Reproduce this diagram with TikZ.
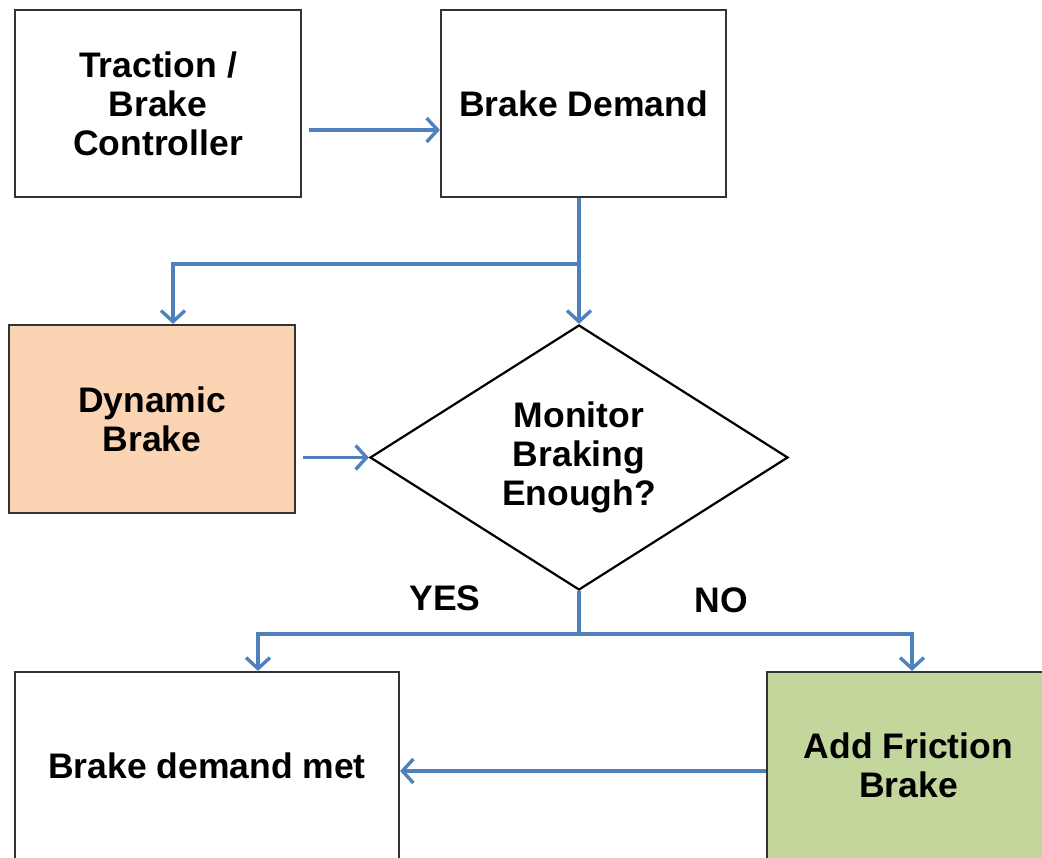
\documentclass[tikz,border=0pt]{standalone}
\usepackage{fontspec}
\setmainfont{Liberation Sans}
\usepackage{xcolor}
\usetikzlibrary{arrows.meta,calc,shapes.geometric}
\definecolor{flowblue}{HTML}{4F81BD}
\definecolor{dynpeach}{HTML}{FBD4B4}
\definecolor{fricgreen}{HTML}{C3D69B}
\tikzset{
	box/.style={
			draw=black!80, line width=2.2pt, rectangle, inner sep=0pt,
			align=center, font=\bfseries\fontsize{35.5}{39}\selectfont
		},
	flow/.style={
			draw=flowblue, line width=3.4pt,
			-{Straight Barb[length=11pt,width=24pt,line width=3.4pt]}
		}
}
\begin{document}
\begin{tikzpicture}[x=1pt, y=-1pt]
			\useasboundingbox (0, 0) rectangle (1042, 858);
			\clip (0, 0) rectangle (1042, 858);

			\node[box, minimum width=286pt, minimum height=187pt]	(trac) at (158, 103.5) {Traction /\\Brake\\Controller};
			\node[box, minimum width=285pt, minimum height=187pt]	(dem) at (583.5, 103.5) {Brake Demand};
			\node[box, fill=dynpeach, minimum width=286pt, minimum height=188pt]	(dyn) at (152, 419) {Dynamic\\Brake};
			\node[box, diamond, draw=black, aspect=1.58, minimum width=418pt, minimum height=265pt]	(mon) at (579, 457.5) {Monitor\\Braking\\Enough?};
			\node[box, minimum width=384pt, minimum height=187pt]	(met) at (207, 765.5) {Brake demand met};
			\node[box, fill=fricgreen, minimum width=283pt, minimum height=187pt]	(fric) at (908.5, 765.5) {Add Friction\\Brake};

			\coordinate (split1) at ($(mon.north |- dem.south) + (0, 66)$);
			\coordinate (split2) at ($(mon.south) + (0, 43)$);

			\draw[flow]	([shift={(7pt,-26.5pt)}]trac.east) -- ([yshift=-26.5pt]dem.west);
			\draw[flow]	(mon.north |- dem.south) -- (mon.north);
			\draw[flow]	(split1) -| ([xshift=21pt]dyn.north);
			\draw[flow]	([xshift=7pt]dyn.east |- mon.west) -- (mon.west);
			\draw[flow, -]	(mon.south) -- (split2);
			\draw[flow]	(split2) -| ([xshift=51pt]met.north);
			\draw[flow]	(split2) -| ([xshift=3.5pt]fric.north);
			\draw[flow]	([yshift=-5.5pt]fric.west) -- ([yshift=-5.5pt]met.east);

			\node[box, draw=none]	(yes) at (445, 598) {YES};
			\node[box, draw=none]	(no) at (721, 600) {NO};
		\end{tikzpicture}
\end{document}
